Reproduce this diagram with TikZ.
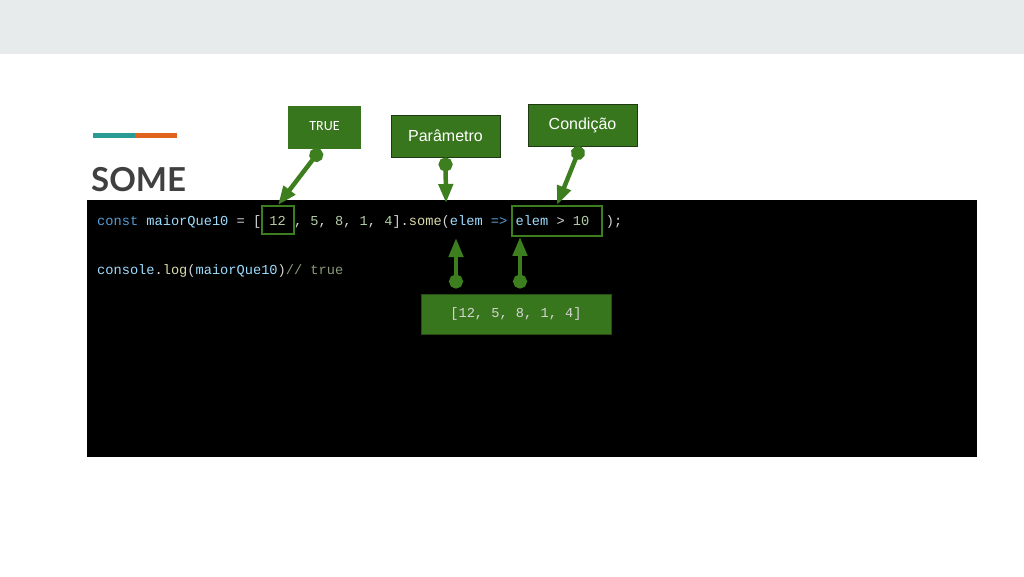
\documentclass[tikz,border=0pt]{standalone}
\usepackage{fontspec}
\usetikzlibrary{arrows.meta}
\usetikzlibrary{positioning}
\setmainfont{Liberation Sans}
\newfontfamily\codefont{Liberation Mono}
\newfontfamily\titlefont{Lato}
\newfontfamily\smallfont{Carlito}
\definecolor{bandgray}{HTML}{E8EBEC}
\definecolor{tealbar}{HTML}{2A9A94}
\definecolor{orangebar}{HTML}{E0631E}
\definecolor{titlegray}{HTML}{404040}
\definecolor{boxgreen}{HTML}{38761D}
\definecolor{boxedge}{HTML}{1F3A12}
\definecolor{arrowgreen}{HTML}{3D7F1F}
\definecolor{kwblue}{HTML}{569CD6}
\definecolor{varblue}{HTML}{9CDCFE}
\definecolor{numgreen}{HTML}{B5CEA8}
\definecolor{fnyellow}{HTML}{DCDCAA}
\definecolor{cmtgreen}{HTML}{8A9A78}
\definecolor{codewhite}{HTML}{D4D4D4}

\begin{document}
\begin{tikzpicture}[x=1pt,y=-1pt,
    labelbox/.style={fill=boxgreen, draw=boxedge, line width=1pt, text=white, inner sep=0pt},
    hlbox/.style={draw=arrowgreen, line width=1.8pt, inner sep=0pt},
    pointer/.style={draw=arrowgreen, line width=4.5pt,
      {Circle[length=14pt,width=14pt,fill=arrowgreen]}-{Triangle[length=19pt,width=14pt,fill=arrowgreen]}},
    code/.style={anchor=base west, inner sep=0pt, text=codewhite,
      font=\codefont\fontsize{13.67}{16}\selectfont}]

      \useasboundingbox (0,0) rectangle (1024,576);
      \fill[bandgray] (0,0) rectangle (1024,54);
      \fill[tealbar] (93,133) rectangle (135,138);
      \fill[orangebar] (135,133) rectangle (177,138);
      \node[anchor=base west, inner sep=0pt, text=titlegray,
        font=\titlefont\bfseries\fontsize{33}{36}\selectfont] (title) at (91,191) {SOME};

      \fill[black] (87,200) rectangle (977,457);

      \node[code] (line1) at (97,225) {\textcolor{kwblue}{const} \textcolor{varblue}{maiorQue10} = [ \textcolor{numgreen}{12} , \textcolor{numgreen}{5}, \textcolor{numgreen}{8}, \textcolor{numgreen}{1}, \textcolor{numgreen}{4}].\textcolor{fnyellow}{some}(\textcolor{varblue}{elem} \textcolor{kwblue}{=>} \textcolor{varblue}{elem} > \textcolor{numgreen}{10}~~);};
      \node[code] (line2) at (97,274) {\textcolor{varblue}{console}.\textcolor{fnyellow}{log}(\textcolor{varblue}{maiorQue10})\textcolor{cmtgreen}{// true}};

      \node[hlbox, minimum width=32, minimum height=28] (hl12) at (278,220) {};
      \node[hlbox, minimum width=90, minimum height=30] (hlcond) at (557,221) {};

      \node[labelbox, draw=none, minimum width=73, minimum height=43,
        font=\smallfont\fontsize{14}{16}\selectfont] (true) at (324.5,127.5) {\raisebox{2pt}{TRUE}};
      \node[labelbox, minimum width=109, minimum height=42,
        font=\fontsize{16}{19}\selectfont] (param) at (445.5,136) {Parâmetro};
      \node[labelbox, minimum width=109, minimum height=42,
        font=\fontsize{16}{19}\selectfont] (cond) at (582.5,125) {Condição};
      \node[labelbox, draw=boxedge!70!boxgreen, minimum width=190, minimum height=40, text=codewhite,
        font=\codefont\fontsize{13.67}{16}\selectfont] (arr) at (516,314) {[12, 5, 8, 1, 4]};

      \coordinate (elemin) at (446,203);
      \coordinate (elemup) at (456,238);

      \draw[pointer] ([xshift=-4pt]true.south) -- (hl12.north);
      \draw[pointer] (param.south) -- (elemin);
      \draw[pointer] ([xshift=-2pt]cond.south) -- (hlcond.north);
      \draw[pointer, shorten <=5pt] ([xshift=-60pt]arr.north) -- (elemup);
      \draw[pointer, shorten <=5pt] ([xshift=4pt]arr.north) -- ([xshift=-37pt]hlcond.south);
    \end{tikzpicture}
\end{document}
